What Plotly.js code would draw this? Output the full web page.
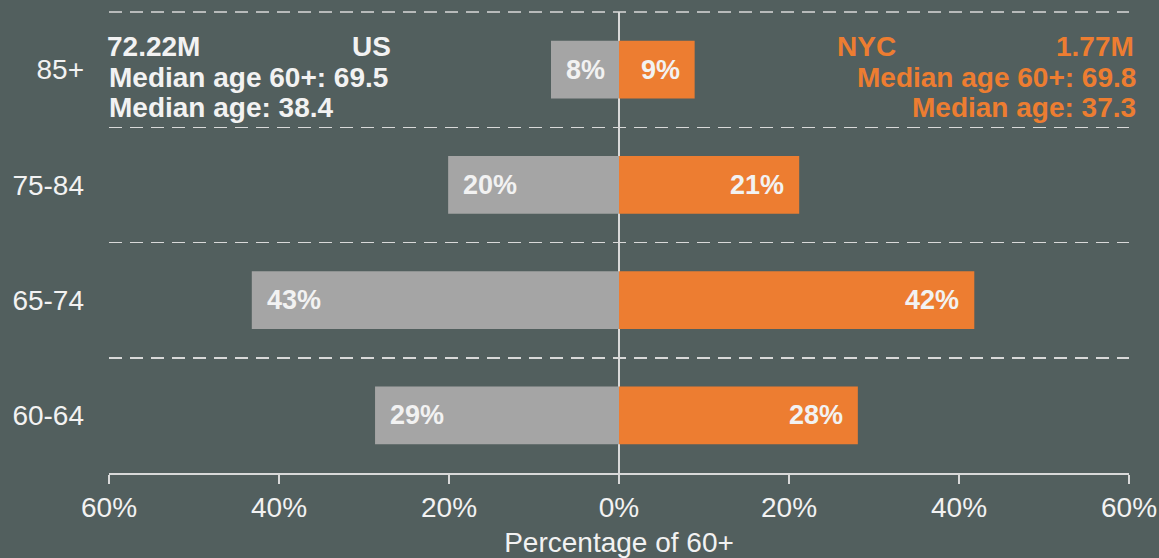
<!DOCTYPE html>
<html>
<head>
<meta charset="utf-8">
<script src="https://cdn.plot.ly/plotly-3.0.1.min.js"></script>
<style>
html,body{margin:0;padding:0;background:#525F5E;}
#chart{width:1159px;height:558px;}
</style>
</head>
<body>
<div id="chart"></div>
<script>
const ageGroups = ['60-64', '65-74', '75-84', '85+'];
const usShare = [28.7, 43.2, 20.1, 8.0];
const nycShare = [28.1, 41.8, 21.2, 8.9];
const xTickVals = [-60, -40, -20, 0, 20, 40, 60];
const xTickText = ['60%', '40%', '20%', '0%', '20%', '40%', '60%'];

const usInfo = ['72.22M', 'US', 'Median age 60+: 69.5', 'Median age: 38.4'];
const nycInfo = ['NYC', '1.77M', 'Median age 60+: 69.8', 'Median age: 37.3'];

const FONT = '"Liberation Sans", Arial, sans-serif';
const WHITE = '#F2F2F2';
const ORANGE = '#ED7D31';
const GRAY = '#A5A5A5';
const BG = '#525F5E';
const LINE = '#D9D9D9';
const FS = 28;

const traces = [
  {
    type: 'bar', orientation: 'h', name: 'US',
    y: ageGroups, x: usShare.map(v => -v),
    marker: {color: GRAY}, width: 0.5, hoverinfo: 'skip'
  },
  {
    type: 'bar', orientation: 'h', name: 'NYC',
    y: ageGroups, x: nycShare,
    marker: {color: ORANGE}, width: 0.5, hoverinfo: 'skip'
  }
];

const annotations = [];
ageGroups.forEach((g, i) => {
  annotations.push({
    x: -usShare[i], y: g, xref: 'x', yref: 'y', text: Math.round(usShare[i]) + '%',
    showarrow: false, xanchor: 'left', yanchor: 'middle', xshift: 13,
    font: {family: FONT, size: 27, color: WHITE, weight: 'bold'}
  });
  annotations.push({
    x: nycShare[i], y: g, xref: 'x', yref: 'y', text: Math.round(nycShare[i]) + '%',
    showarrow: false, xanchor: 'right', yanchor: 'middle', xshift: -13,
    font: {family: FONT, size: 27, color: WHITE, weight: 'bold'}
  });
});

// plot area in pixels: x 109..1129, y 12..473
function px(x) { return (x - 109) / 1020; }
function py(y) { return (473 - y) / 461; }
function info(text, x, y, anchor, color) {
  annotations.push({
    x: px(x), y: py(y), xref: 'paper', yref: 'paper', text: text,
    showarrow: false, xanchor: anchor, yanchor: 'middle',
    font: {family: FONT, size: FS, color: color, weight: 'bold'}
  });
}
info(usInfo[0], 105, 46, 'left', WHITE);
info(usInfo[1], 393, 46, 'right', WHITE);
info(usInfo[2], 107, 77, 'left', WHITE);
info(usInfo[3], 107, 108, 'left', WHITE);
info(nycInfo[0], 835, 46, 'left', ORANGE);
info(nycInfo[1], 1136, 46, 'right', ORANGE);
info(nycInfo[2], 1138, 77, 'right', ORANGE);
info(nycInfo[3], 1138, 108, 'right', ORANGE);

const layout = {
  width: 1159, height: 558,
  paper_bgcolor: BG, plot_bgcolor: BG,
  margin: {l: 109, r: 30, t: 12, b: 85},
  barmode: 'relative',
  showlegend: false,
  font: {family: FONT, color: WHITE, size: FS},
  xaxis: {
    range: [-60, 60],
    tickvals: xTickVals, ticktext: xTickText,
    showgrid: false,
    zeroline: true, zerolinecolor: LINE, zerolinewidth: 1.5,
    showline: true, linecolor: LINE, linewidth: 1.5,
    ticks: 'outside', ticklen: 9, tickcolor: LINE, tickwidth: 1.5,
    tickfont: {family: FONT, size: FS, color: WHITE},
    title: {text: 'Percentage of 60+', font: {family: FONT, size: FS, color: WHITE}, standoff: 10},
    fixedrange: true
  },
  yaxis: {
    type: 'category',
    categoryorder: 'array', categoryarray: ageGroups,
    range: [-0.5, 3.5],
    tickson: 'boundaries',
    showgrid: true, gridcolor: LINE, gridwidth: 1.5, griddash: '13px,8px',
    showline: false, zeroline: false,
    ticks: '', ticklabelstandoff: 24,
    tickfont: {family: FONT, size: FS, color: WHITE},
    fixedrange: true
  },
  shapes: [{
    type: 'line', xref: 'paper', yref: 'paper', x0: 0, x1: 1, y0: 1, y1: 1,
    line: {color: LINE, width: 1.5, dash: '13px,8px'}, layer: 'below'
  }],
  annotations: annotations
};

Plotly.newPlot('chart', traces, layout, {displayModeBar: false, staticPlot: true});
</script>
</body>
</html>
